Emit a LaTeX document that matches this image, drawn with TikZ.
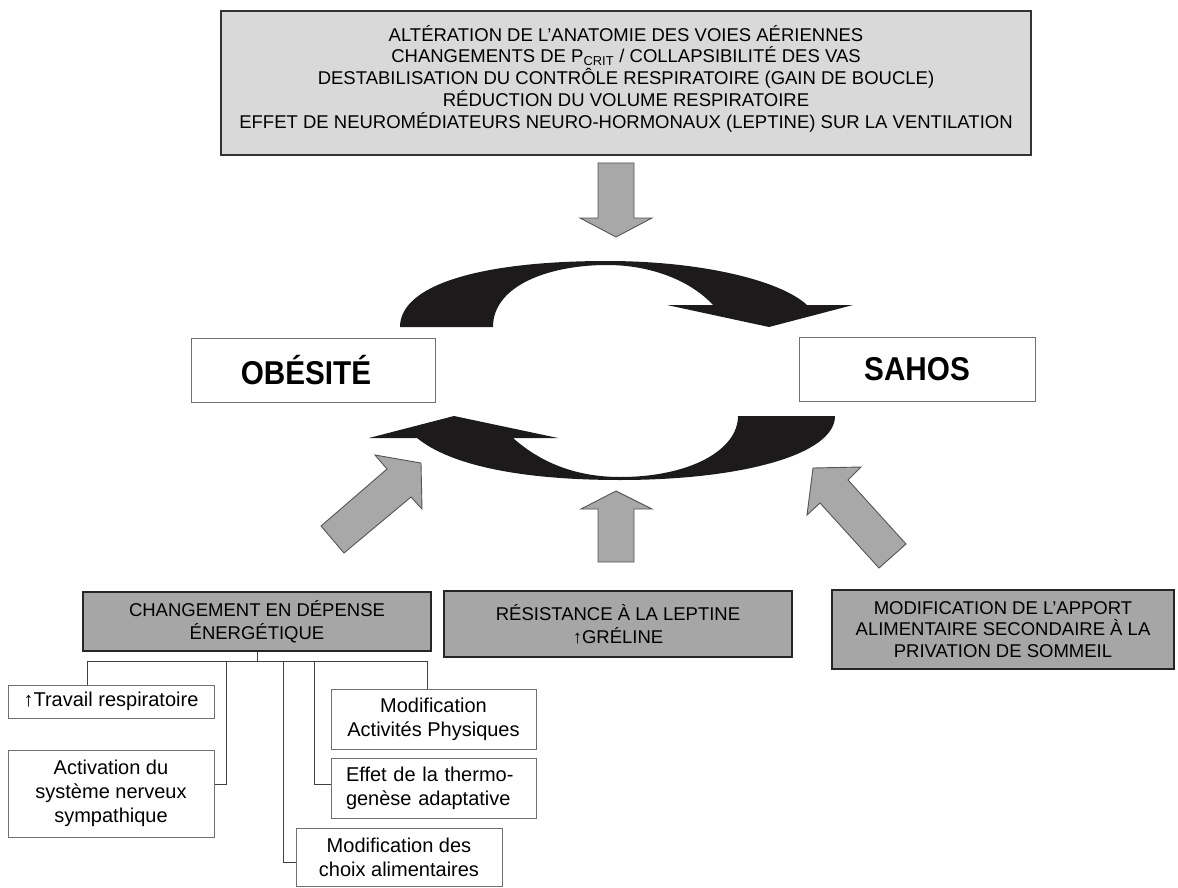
\documentclass[tikz,border=0pt]{standalone}
\usepackage{fontspec}
\setmainfont{Liberation Sans}
\newfontfamily\condfont[FakeStretch=0.9]{Liberation Sans}
\definecolor{topfill}{HTML}{D9D9D9}
\definecolor{boxfill}{HTML}{A6A6A6}
\definecolor{arrfill}{HTML}{A8A8A8}
\definecolor{arrline}{HTML}{555555}
\definecolor{arcfill}{HTML}{1C1A1A}
\definecolor{wline}{HTML}{707070}
\tikzset{
  topbox/.style={draw=black!80, line width=1.2pt, fill=topfill, inner sep=0pt},
  toptext/.style={align=center, inner sep=0pt, font=\fontsize{18.5}{21.7}\selectfont},
  greybox/.style={draw=black!85, line width=1.1pt, fill=boxfill, align=center, inner sep=0pt,
    font=\fontsize{18.5}{23}\selectfont},
  whitebox/.style={draw=wline, line width=1pt, fill=white, align=center, inner sep=0pt,
    font=\fontsize{20}{24}\selectfont},
  mainbox/.style={draw=wline, line width=1pt, fill=white, inner sep=0pt,
    font=\fontsize{33}{33}\condfont\bfseries},
  garrow/.style={fill=arrfill, draw=arrline, line width=0.9pt, line join=miter},
  blackarc/.style={fill=arcfill},
  tree/.style={draw=black!75, line width=0.9pt}
}
\begin{document}
\begin{tikzpicture}[x=1pt,y=-1pt]
\useasboundingbox (0,0) rectangle (1178,888);

% top box of causes
\node[topbox, minimum width=810, minimum height=144] (causes) at (626,83) {};
\node[toptext] (causestext) at (626,78.5)
  {ALTÉRATION DE L’ANATOMIE DES VOIES AÉRIENNES\\
   CHANGEMENTS DE P\textsubscript{CRIT} / COLLAPSIBILITÉ DES VAS\\
   DESTABILISATION DU CONTRÔLE RESPIRATOIRE (GAIN DE BOUCLE)\\
   RÉDUCTION DU VOLUME RESPIRATOIRE\\
   EFFET DE NEUROMÉDIATEURS NEURO-HORMONAUX (LEPTINE) SUR LA VENTILATION};

% down arrow
\draw[garrow] (598,163) -- (634,163) -- (634,218) -- (652,218) -- (616,237) -- (580,218) -- (598,218) -- cycle;

% main boxes
\node[mainbox, minimum width=244, minimum height=64] (obes) at (313,370) {\hspace*{-14pt}OBÉSITÉ};
\node[mainbox, minimum width=236, minimum height=64] (sahos) at (917,369) {SAHOS};

% top black curved arrow (obésité -> sahos)
\fill[blackarc] (400,327) .. controls (400,285) and (480,261) .. (607,261)
  .. controls (700,261) and (780,280) .. (807,305) -- (853,305) -- (769,327) -- (667,305) -- (713,305)
  .. controls (690,280) and (650,265) .. (607,265)
  .. controls (550,265) and (493,285) .. (493,327) -- cycle;

% bottom black curved arrow (sahos -> obésité)
\fill[blackarc] (835,416) .. controls (835,455) and (740,480) .. (620,480)
  .. controls (520,480) and (450,465) .. (417,438) -- (369,438) -- (454,416) -- (558,438) -- (513,438)
  .. controls (540,462) and (575,477) .. (620,477)
  .. controls (690,477) and (738,450) .. (738,416) -- cycle;

% gray arrows from below
\draw[garrow] (321,526) -- (387,469) -- (375,455) -- (421,463) -- (422,509) -- (411,497) -- (344,553) -- cycle;
\draw[garrow] (598,562) -- (598,509) -- (581,509) -- (616,491) -- (652,509) -- (634,509) -- (634,562) -- cycle;
\draw[garrow] (813,468) -- (861,467) -- (848,480) -- (906,544) -- (879,568) -- (820,503) -- (807,515) -- cycle;

% lower grey boxes
\node[greybox, minimum width=348, minimum height=59] (depense) at (257,621.5)
  {CHANGEMENT EN DÉPENSE\\ÉNERGÉTIQUE};
\node[greybox, minimum width=348, minimum height=66] (leptine) at (618,624)
  {RÉSISTANCE À LA LEPTINE\\↑GRÉLINE};
\node[greybox, minimum width=342, minimum height=79, font=\fontsize{18.5}{21.5}\selectfont] (apport) at (1003,629.5)
  {MODIFICATION DE L’APPORT\\ALIMENTAIRE SECONDAIRE À LA\\PRIVATION DE SOMMEIL};

% white boxes of the tree
\node[whitebox, minimum width=206, minimum height=33] (travail) at (111,701.5) {↑Travail respiratoire};
\node[whitebox, minimum width=206, minimum height=87] (activation) at (111,793.5)
  {Activation du\\système nerveux\\sympathique};
\node[whitebox, minimum width=205, minimum height=60] (activites) at (433.5,719)
  {Modification\\Activités Physiques};
\node[whitebox, minimum width=205, minimum height=60, align=left, text width=175] (effet) at (433.5,788)
  {Effet de la thermo-\\genèse adaptative};
\node[whitebox, minimum width=206, minimum height=58] (choix) at (399,857)
  {Modification des\\choix alimentaires};

% tree connectors
\coordinate (busL) at (87,661);
\coordinate (busR) at (427,661);
\coordinate (bA) at (226,661);
\coordinate (bC) at (283,661);
\coordinate (bE) at (314,661);
\draw[tree] (depense.south) -- (depense.south |- busL);
\draw[tree] (busL) -- (busR);
\draw[tree] (busL) -- (busL |- travail.north);
\draw[tree] (bA) |- ([yshift=9.5pt]activation.east);
\draw[tree] (bC) |- ([yshift=-5pt]choix.west);
\draw[tree] (bE) |- ([yshift=4pt]effet.west);
\draw[tree] (busR) -- (busR |- activites.north);
\end{tikzpicture}
\end{document}
